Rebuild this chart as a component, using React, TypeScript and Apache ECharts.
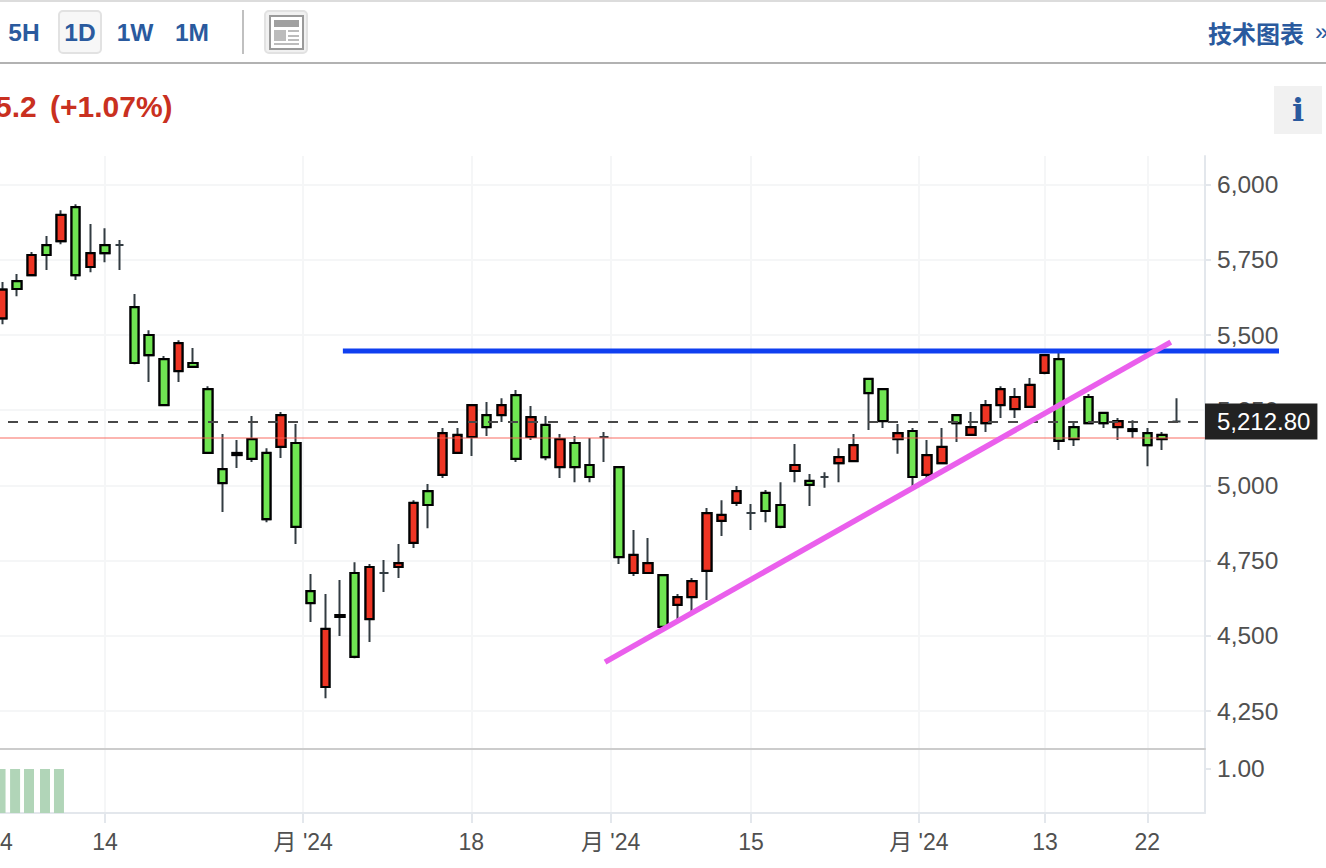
import React, { useEffect, useRef } from "react";
import * as echarts from "echarts";

// open, close, low, high for each daily bar (red = close above open, green = close below open)
const candleValues: number[][] = [
  [5555, 5651, 5536, 5676], [5679, 5653, 5629, 5703], [5699, 5766, 5696, 5776], [5799, 5766, 5716, 5829],
  [5812, 5899, 5802, 5915], [5925, 5699, 5683, 5935], [5726, 5772, 5709, 5869], [5799, 5772, 5742, 5855],
  [5799, 5799, 5716, 5816], [5593, 5407, 5403, 5636], [5500, 5433, 5344, 5516], [5420, 5267, 5264, 5430],
  [5380, 5473, 5344, 5483], [5407, 5394, 5390, 5457], [5320, 5108, 5105, 5330], [5054, 5008, 4912, 5171],
  [5108, 5101, 5058, 5151], [5154, 5088, 5078, 5231], [5108, 4888, 4878, 5124], [5128, 5234, 5091, 5244],
  [5141, 4862, 4805, 5204], [4649, 4609, 4546, 4706], [4330, 4523, 4293, 4639], [4569, 4563, 4500, 4686],
  [4709, 4430, 4426, 4745], [4556, 4729, 4480, 4739], [4709, 4709, 4646, 4752], [4729, 4742, 4692, 4805],
  [4809, 4942, 4792, 4951], [4981, 4935, 4858, 5005], [5035, 5174, 5025, 5191], [5108, 5168, 5105, 5191],
  [5161, 5267, 5098, 5270], [5234, 5194, 5164, 5277], [5234, 5267, 5211, 5290], [5300, 5088, 5078, 5317],
  [5161, 5227, 5151, 5264], [5201, 5094, 5084, 5231], [5061, 5154, 5025, 5171], [5141, 5061, 5011, 5164],
  [5068, 5028, 5011, 5158], [5161, 5161, 5078, 5178], [5061, 4762, 4739, 5064], [4709, 4769, 4699, 4852],
  [4709, 4742, 4706, 4825], [4702, 4530, 4526, 4706], [4603, 4629, 4553, 4639], [4629, 4682, 4579, 4692],
  [4716, 4908, 4619, 4925], [4882, 4902, 4832, 4951], [4942, 4981, 4932, 4998], [4908, 4908, 4852, 4938],
  [4975, 4915, 4878, 4985], [4935, 4862, 4858, 5011], [5048, 5068, 5011, 5138], [5015, 5002, 4932, 5038],
  [5028, 5028, 4992, 5044], [5074, 5094, 5011, 5124], [5081, 5134, 5078, 5171], [5354, 5307, 5184, 5357],
  [5320, 5214, 5191, 5324], [5154, 5174, 5105, 5204], [5181, 5028, 4998, 5191], [5035, 5101, 5018, 5151],
  [5074, 5128, 5071, 5191], [5234, 5207, 5144, 5237], [5168, 5194, 5164, 5244], [5207, 5267, 5178, 5284],
  [5267, 5320, 5224, 5330], [5254, 5294, 5224, 5324], [5261, 5334, 5257, 5357], [5374, 5433, 5370, 5437],
  [5420, 5148, 5118, 5443], [5194, 5154, 5131, 5211], [5294, 5207, 5204, 5304], [5241, 5207, 5191, 5244],
  [5194, 5214, 5151, 5224], [5187, 5181, 5158, 5217], [5174, 5134, 5064, 5191], [5168, 5154, 5118, 5178],
  [5212.8, 5212.8, 5212.8, 5290],
];

const volumeBarIndex = [-0.12, 0.87, 1.82, 2.91, 3.86];
const volumeValues = [1, 1, 1, 1, 1];

const xLabelIndex = [-0.157, 7, 20.5, 31.95, 41.44, 51, 62.44, 71.03, 78];
const xTickIndex = [7, 20.5, 31.95, 41.44, 51, 62.44, 71.03, 78];
const xTickLabels = ["24", "14", "月 '24", "18", "月 '24", "15", "月 '24", "13", "22"];
const priceTicks = [4250, 4500, 4750, 5000, 5250, 5500, 5750, 6000];
const volumeTicks = [1];

const lastPrice = 5212.8;
const previousClose = 5157.6;
const resistanceLine = [[23.2, 5446.7, 86.97, 5446.7]];
const trendLine = [[41.06, 4413], [79.6, 5476.6]];

const xMin = -0.157;
const xMax = 81.93;
const priceMin = 4124;
const priceMax = 6095;
const volumeMax = 1.4545;

const FONT = '"Liberation Sans", "Noto Sans CJK SC", sans-serif';
const BLUE = "#2a5a9e";
const GRID = "#f5f6f7";
const AXIS = "#e3e7ec";
const LABEL = "#505050";

const fmtPrice = (v: number) => v.toLocaleString("en-US");

function headerGraphics() {
  const btnText = (text: string, x: number) => ({
    type: "text", x, y: 32,
    style: { text, font: `bold 24.5px ${FONT}`, fill: BLUE, align: "center", verticalAlign: "middle" },
  });
  const fill = (x: number, y: number, width: number, height: number, color: string) => ({
    type: "rect", shape: { x, y, width, height }, style: { fill: color },
  });
  return [
    fill(0, 0, 1326, 2, "#dcdcdc"),
    fill(0, 62, 1326, 2, "#b2b2b2"),
    {
      type: "rect", shape: { x: 59, y: 11, width: 42, height: 42, r: 4 },
      style: { fill: "#f7f7f7", stroke: "#e2e2e2", lineWidth: 2 },
    },
    btnText("5H", 24), btnText("1D", 80), btnText("1W", 135), btnText("1M", 192),
    fill(242, 10, 2, 44, "#c0c0c0"),
    {
      type: "rect", shape: { x: 265, y: 11, width: 42, height: 42, r: 4 },
      style: { fill: "#f1f1f1", stroke: "#e2e2e2", lineWidth: 2 },
    },
    {
      type: "rect", shape: { x: 270, y: 16, width: 33, height: 33 },
      style: { fill: "#ffffff", stroke: "#9a9a9a", lineWidth: 2 },
    },
    fill(274, 20, 25, 7, "#a0a0a0"),
    fill(274, 30, 12, 11, "#bcbcbc"),
    fill(288, 30, 11, 2, "#bcbcbc"),
    fill(288, 35, 11, 2, "#bcbcbc"),
    fill(288, 39, 11, 2, "#bcbcbc"),
    fill(274, 43, 25, 2, "#bcbcbc"),
    {
      type: "text", x: 1208, y: 32,
      style: { text: "技术图表", font: 'bold 24px "Noto Sans CJK SC"', fill: BLUE, align: "left", verticalAlign: "middle" },
    },
    {
      type: "text", x: 1315, y: 31,
      style: { text: "»", font: `24px ${FONT}`, fill: BLUE, align: "left", verticalAlign: "middle" },
    },
    {
      type: "text", x: -5, y: 106,
      style: { text: "5.2", font: `bold 30px ${FONT}`, fill: "#c93020", align: "left", verticalAlign: "middle" },
    },
    {
      type: "text", x: 50, y: 106,
      style: { text: "(+1.07%)", font: `bold 30px ${FONT}`, fill: "#c93020", align: "left", verticalAlign: "middle" },
    },
    fill(1274, 86, 48, 48, "#f1f1f1"),
    {
      type: "text", x: 1298, y: 110,
      style: { text: "i", font: 'bold 32px "DejaVu Serif"', fill: BLUE, align: "center", verticalAlign: "middle" },
    },
  ];
}

export default function App() {
  const ref = useRef<HTMLDivElement>(null);

  useEffect(() => {
    const chart = echarts.init(ref.current!, undefined, { renderer: "svg" });
    const fullRows = candleValues.map((c, i) => [i, c[0], c[1], c[2], c[3]]);
    const bodyRows = candleValues
      .map((c, i) => [i, c[0], c[1], Math.min(c[0], c[1]), Math.max(c[0], c[1])])
      .filter((r) => r[1] !== r[2]);
    const candleStyle = (border: string, width: number) => ({
      color: "#ee3524", color0: "#6fe552",
      borderColor: border, borderColor0: border, borderColorDoji: border, borderWidth: width,
    });
    const xAxisBase = {
      type: "value", min: xMin, max: xMax,
      splitLine: { show: true, lineStyle: { color: GRID, width: 2 } },
      axisTick: { show: false, customValues: xTickIndex },
    };
    chart.setOption({
      animation: false,
      backgroundColor: "#ffffff",
      grid: [
        { left: 0, right: 121, top: 156, height: 593, outerBoundsMode: "none" },
        { left: 0, right: 121, top: 749, height: 64, outerBoundsMode: "none" },
      ],
      xAxis: [
        {
          ...xAxisBase, gridIndex: 0,
          axisLine: { show: true, onZero: false, lineStyle: { color: "#cccccc", width: 2 } },
          axisLabel: { show: false, customValues: xLabelIndex },
        },
        {
          ...xAxisBase, gridIndex: 1,
          axisLine: { show: true, onZero: false, lineStyle: { color: AXIS, width: 2 } },
          axisTick: { show: true, length: 10, customValues: xTickIndex, lineStyle: { color: AXIS, width: 2 } },
          axisLabel: {
            show: true, customValues: xLabelIndex, margin: 17, fontSize: 23, color: LABEL, fontFamily: FONT,
            hideOverlap: false,
            formatter: (v: number) => xTickLabels[xLabelIndex.indexOf(v)] ?? "",
          },
        },
      ],
      yAxis: [
        {
          type: "value", gridIndex: 0, position: "right", min: priceMin, max: priceMax,
          axisLine: { show: true, onZero: false, lineStyle: { color: AXIS, width: 2 } },
          axisTick: { show: true, length: 6, customValues: priceTicks, lineStyle: { color: AXIS, width: 2 } },
          splitLine: { show: true, lineStyle: { color: GRID, width: 2 } },
          axisLabel: {
            customValues: priceTicks, margin: 12, fontSize: 24.5, color: LABEL, fontFamily: FONT,
            formatter: fmtPrice,
          },
        },
        {
          type: "value", gridIndex: 1, position: "right", min: 0, max: volumeMax,
          axisLine: { show: true, onZero: false, lineStyle: { color: AXIS, width: 2 } },
          axisTick: { show: true, length: 6, customValues: volumeTicks, lineStyle: { color: AXIS, width: 2 } },
          splitLine: { show: false },
          axisLabel: {
            customValues: volumeTicks, margin: 12, fontSize: 24.5, color: LABEL, fontFamily: FONT,
            formatter: (v: number) => v.toFixed(2),
          },
        },
      ],
      series: [
        {
          type: "line", data: [], xAxisIndex: 0, yAxisIndex: 0, z: 1, silent: true,
          markLine: {
            silent: true, symbol: "none", animation: false,
            lineStyle: { color: "#484848", width: 2, type: [10, 10], dashOffset: 12 },
            label: {
              show: true, position: "end", distance: 0,
              formatter: () => lastPrice.toFixed(2).replace("5212", "5,212"),
              backgroundColor: "#222222", color: "#ffffff", fontSize: 24, fontFamily: FONT,
              padding: [7, 7, 5, 12],
            },
            data: [{ yAxis: lastPrice }],
          },
        },
        {
          type: "candlestick", data: fullRows, xAxisIndex: 0, yAxisIndex: 0, z: 2,
          barWidth: 9, itemStyle: candleStyle("#333c42", 2),
          encode: { x: 0, y: [1, 2, 3, 4] },
        },
        {
          type: "candlestick", data: bodyRows, xAxisIndex: 0, yAxisIndex: 0, z: 3,
          barWidth: 9, itemStyle: candleStyle("#000000", 2.2),
          encode: { x: 0, y: [1, 2, 3, 4] },
        },
        {
          type: "line", data: [], xAxisIndex: 0, yAxisIndex: 0, z: 4, silent: true,
          markLine: {
            silent: true, symbol: "none", animation: false,
            lineStyle: { color: "rgba(248,90,80,0.45)", width: 2, type: "solid" },
            label: { show: false },
            data: [{ yAxis: previousClose }],
          },
        },
        {
          type: "custom", data: resistanceLine, xAxisIndex: 0, yAxisIndex: 0, z: 5, clip: false, silent: true,
          encode: { x: [0, 2], y: [1, 3] },
          renderItem: (_p: any, api: any) => {
            const a = api.coord([api.value(0), api.value(1)]);
            const b = api.coord([api.value(2), api.value(3)]);
            return {
              type: "line",
              shape: { x1: a[0], y1: a[1], x2: b[0], y2: b[1] },
              style: { stroke: "#0f3ff0", lineWidth: 5 },
            };
          },
        },
        {
          type: "line", data: trendLine, xAxisIndex: 0, yAxisIndex: 0, z: 6,
          symbol: "none", lineStyle: { color: "#ea5fec", width: 5.5 },
        },
        {
          type: "custom", data: volumeBarIndex.map((x, i) => [x, volumeValues[i]]),
          xAxisIndex: 1, yAxisIndex: 1, clip: true, silent: true,
          encode: { x: 0, y: 1 },
          renderItem: (_p: any, api: any) => {
            const top = api.coord([api.value(0), api.value(1)]);
            const base = api.coord([api.value(0), 0]);
            return {
              type: "rect",
              shape: { x: top[0] - 5, y: top[1], width: 10, height: base[1] - top[1] },
              style: { fill: "#b1d5b8" },
            };
          },
        },
      ],
      graphic: { elements: headerGraphics() },
    });
    return () => chart.dispose();
  }, []);

  return <div ref={ref} style={{ position: "absolute", left: 0, top: 0, width: 1326, height: 868 }} />;
}
